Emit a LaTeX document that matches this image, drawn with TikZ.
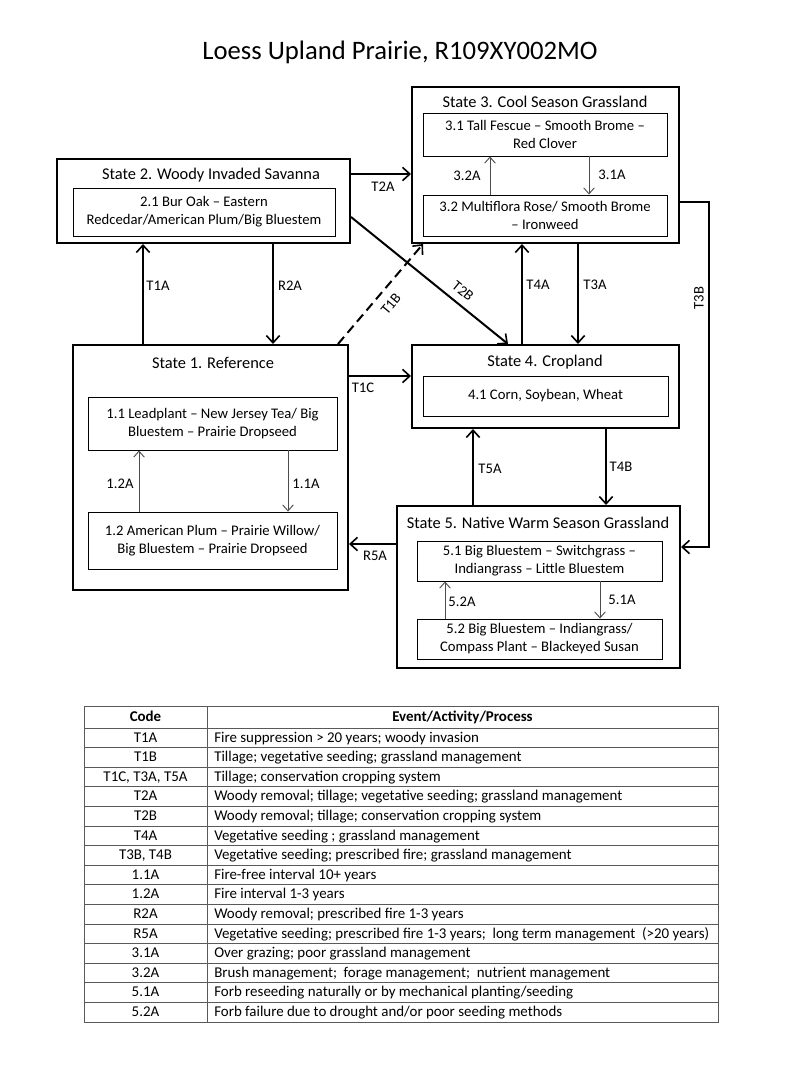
\documentclass[tikz,border=0pt]{standalone}
\usepackage{fontspec}
\setmainfont{Carlito}
\usetikzlibrary{arrows.meta}
\begin{document}
\begin{tikzpicture}[x=0.75pt,y=-0.75pt,
  wh/.style n args={2}{minimum width=#1*0.75pt, minimum height=#2*0.75pt},
  statebox/.style={draw, line width=1.5pt, inner sep=0pt},
  subbox/.style={draw, line width=0.7pt, inner sep=0pt, align=center, font=\fontsize{11}{13.5}\selectfont},
  stitle/.style={inner sep=0pt, font=\fontsize{12.3}{14}\selectfont},
  lbl/.style={inner sep=0pt, font=\fontsize{11}{12}\selectfont},
  bigarrow/.style={line width=1.5pt, -{Straight Barb[length=5.5pt,width=10pt,line width=1.2pt]}},
  smallarrow/.style={line width=0.7pt, draw=black!70, -{Straight Barb[length=4.5pt,width=8pt,line width=0.7pt]}},
  tblline/.style={line width=0.7pt, draw=black!65},
  tbltxt/.style={inner sep=0pt, anchor=base, font=\fontsize{11.2}{13}\selectfont}
]
\useasboundingbox (0,0) rectangle (800,1067);

% title
\node[inner sep=0pt, font=\fontsize{20}{24}\selectfont] (title) at (400,52) {Loess Upland Prairie, R109XY002MO};

% State 2
\node[statebox, wh={293}{84}] (s2) at (203.5,201) {};
\node[stitle] (s2t) at (211,175) {State 2. Woody Invaded Savanna};
\node[subbox, wh={262}{48}] (s21) at (204,212) {2.1 Bur Oak -- Eastern\\Redcedar/American Plum/Big Bluestem};

% State 3
\node[statebox, wh={267}{156}] (s3) at (545.5,165) {};
\node[stitle] (s3t) at (545,102) {State 3. Cool Season Grassland};
\node[subbox, wh={244}{43}] (s31) at (545,134.5) {3.1 Tall Fescue -- Smooth Brome --\\Red Clover};
\node[subbox, wh={244}{41}] (s32) at (545,215.5) {3.2 Multiflora Rose/ Smooth Brome\\-- Ironweed};

% State 1
\node[statebox, wh={275}{245}] (s1) at (210.5,467.5) {};
\node[stitle] (s1t) at (213,363) {State 1. Reference};
\node[subbox, wh={249}{53}] (s11) at (212.5,423.5) {1.1 Leadplant -- New Jersey Tea/ Big\\Bluestem -- Prairie Dropseed};
\node[subbox, wh={249}{57}] (s12) at (212.5,540.5) {1.2 American Plum -- Prairie Willow/\\Big Bluestem -- Prairie Dropseed};

% State 4
\node[statebox, wh={267}{83}] (s4) at (545.5,386.5) {};
\node[stitle] (s4t) at (545,362) {State 4. Cropland};
\node[subbox, wh={245}{40}] (s41) at (545.5,396) {4.1 Corn, Soybean, Wheat};

% State 5
\node[statebox, wh={283}{162}] (s5) at (538.5,587) {};
\node[stitle] (s5t) at (538,523) {State 5. Native Warm Season Grassland};
\node[subbox, wh={245}{40}] (s51) at (539.5,561) {5.1 Big Bluestem -- Switchgrass --\\Indiangrass -- Little Bluestem};
\node[subbox, wh={245}{40}] (s52) at (539.5,639) {5.2 Big Bluestem -- Indiangrass/\\Compass Plant -- Blackeyed Susan};

% transitions between states
\draw[bigarrow] (s2.east |- 0,174) -- (s3.west |- 0,174);
\node[lbl] (lT2A) at (383,187) {T2A};
\draw[bigarrow] (143,0 |- s1.north) -- (143,0 |- s2.south);
\node[lbl] (lT1A) at (158,286) {T1A};
\draw[bigarrow] (273,0 |- s2.south) -- (273,0 |- s1.north);
\node[lbl] (lR2A) at (290,286) {R2A};
\draw[bigarrow] (s1.east |- 0,376) -- (s4.west |- 0,376);
\node[lbl] (lT1C) at (363,388) {T1C};
\draw[bigarrow] (s5.west |- 0,544) -- (s1.east |- 0,544);
\node[lbl] (lR5A) at (375,556) {R5A};
\draw[bigarrow] (522,0 |- s4.north) -- (522,0 |- s3.south);
\node[lbl] (lT4A) at (538,285) {T4A};
\draw[bigarrow] (578,0 |- s3.south) -- (578,0 |- s4.north);
\node[lbl] (lT3A) at (595,285) {T3A};
\draw[bigarrow] (473,0 |- s5.north) -- (473,0 |- s4.south);
\node[lbl] (lT5A) at (490,469) {T5A};
\draw[bigarrow] (606,0 |- s4.south) -- (606,0 |- s5.north);
\node[lbl] (lT4B) at (621,467) {T4B};
\coordinate (t3bc) at (709,547);
\draw[bigarrow] (s3.east |- 0,202) -| (t3bc) -- (s5.east |- t3bc);
\node[lbl, rotate=90] (lT3B) at (699,298) {T3B};
\draw[bigarrow] (s2.east |- 0,217) -- (508,0 |- s4.north);
\node[lbl, rotate=-39] (lT2B) at (463,291) {T2B};
\draw[bigarrow, dashed, dash pattern=on 7pt off 4pt] (338,0 |- s1.north) -- (423,0 |- s3.south);
\node[lbl, rotate=50] (lT1B) at (391,304) {T1B};

% community pathways
\draw[smallarrow] (139,0 |- s12.north) -- (139,0 |- s11.south);
\node[lbl] (l12A) at (120,484) {1.2A};
\draw[smallarrow] (288,0 |- s11.south) -- (288,0 |- s12.north);
\node[lbl] (l11A) at (306,484) {1.1A};
\draw[smallarrow] (490,0 |- s32.north) -- (490,0 |- s31.south);
\node[lbl] (l32A) at (467,176) {3.2A};
\draw[smallarrow] (589,0 |- s31.south) -- (589,0 |- s32.north);
\node[lbl] (l31A) at (612,175) {3.1A};
\draw[smallarrow] (445,0 |- s52.north) -- (445,0 |- s51.south);
\node[lbl] (l52A) at (462,602) {5.2A};
\draw[smallarrow] (600,0 |- s51.south) -- (600,0 |- s52.north);
\node[lbl] (l51A) at (622,600) {5.1A};

% table
\draw[tblline] (84,706) rectangle (718,1022);
\draw[tblline] (207,706) -- (207,1022);
\foreach \i in {0,...,14} {\draw[tblline] (84,728+19.6*\i) -- (718,728+19.6*\i);}
\node[tbltxt, font=\fontsize{11.2}{13}\selectfont\bfseries] (hcode) at (145.5,721.5) {Code};
\node[tbltxt, font=\fontsize{11.2}{13}\selectfont\bfseries] (hevent) at (462.5,721.5) {Event/Activity/Process};
\foreach \c/\t [count=\i from 0] in {
  {T1A}/{Fire suppression > 20 years; woody invasion},
  {T1B}/{Tillage; vegetative seeding; grassland management},
  {T1C, T3A, T5A}/{Tillage; conservation cropping system},
  {T2A}/{Woody removal; tillage; vegetative seeding; grassland management},
  {T2B}/{Woody removal; tillage; conservation cropping system},
  {T4A}/{Vegetative seeding ; grassland management},
  {T3B, T4B}/{Vegetative seeding; prescribed fire; grassland management},
  {1.1A}/{Fire-free interval 10+ years},
  {1.2A}/{Fire interval 1-3 years},
  {R2A}/{Woody removal; prescribed fire 1-3 years},
  {R5A}/{Vegetative seeding; prescribed fire 1-3 years; \ long term management \ (>20 years)},
  {3.1A}/{Over grazing; poor grassland management},
  {3.2A}/{Brush management; \ forage management; \ nutrient management},
  {5.1A}/{Forb reseeding naturally or by mechanical planting/seeding},
  {5.2A}/{Forb failure due to drought and/or poor seeding methods}} {
  \node[tbltxt] (code\i) at (145.5,742+19.6*\i) {\c};
  \node[tbltxt, anchor=base west] (ev\i) at (214,742+19.6*\i) {\t};
}
\end{tikzpicture}
\end{document}
